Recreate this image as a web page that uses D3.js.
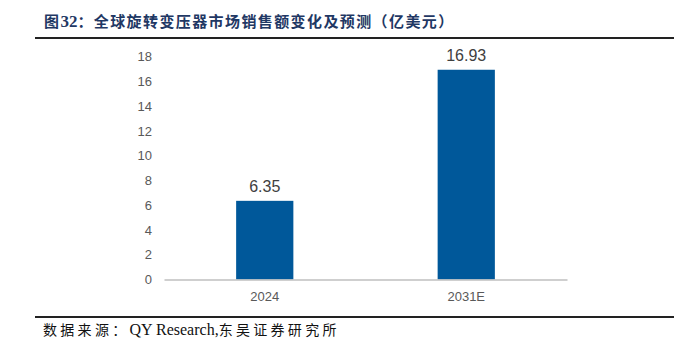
<!DOCTYPE html>
<html><head><meta charset="utf-8">
<script src="https://cdn.jsdelivr.net/npm/d3@7"></script>
<style>body{margin:0;background:#fff}</style>
</head><body>
<script>
const categories = ["2024", "2031E"];
const values = [6.35, 16.93];
const valueLabels = ["6.35", "16.93"];
const yTicks = [0, 2, 4, 6, 8, 10, 12, 14, 16, 18];
const titleParts = ["图", "32", "：全球旋转变压器市场销售额变化及预测（亿美元）"];
const sourceParts = ["数据来源：", "QY Research,", "东吴证券研究所"];

const W = 695, H = 340;
const svg = d3.select("body").append("svg").attr("width", W).attr("height", H);

const ff = "'Liberation Serif', 'Noto Sans CJK SC', serif";
const t = svg.append("text").attr("x", 44).attr("y", 27)
  .attr("font-family", ff).attr("font-weight", "bold")
  .attr("font-size", 15).attr("fill", "#1F3864");
titleParts.forEach((p, i) => t.append("tspan").attr("letter-spacing", i === 1 ? 0 : 1.4)
  .attr("font-size", i === 1 ? 17 : 15).text(p));

svg.append("line").attr("x1", 35).attr("x2", 674).attr("y1", 38).attr("y2", 38)
  .attr("stroke", "#222").attr("stroke-width", 2);
svg.append("line").attr("x1", 35).attr("x2", 674).attr("y1", 317).attr("y2", 317)
  .attr("stroke", "#222").attr("stroke-width", 2);

const s = svg.append("text").attr("x", 43).attr("y", 335)
  .attr("font-family", ff).attr("font-size", 14).attr("fill", "#111");
sourceParts.forEach((p, i) => s.append("tspan").attr("letter-spacing", i === 1 ? 0 : 3.3)
  .attr("font-size", i === 1 ? 16 : 14).text(p));

const x = d3.scaleBand().domain(categories).range([164, 567]).paddingInner(0.716).paddingOuter(0.358);
const y = d3.scaleLinear().domain([0, 18]).range([279.5, 56.5]);

const yAxis = svg.append("g").attr("transform", "translate(158,0)")
  .call(d3.axisLeft(y).tickValues(yTicks).tickSize(0).tickPadding(6));
yAxis.select(".domain").remove();
yAxis.selectAll("text").attr("font-family", "'Liberation Sans', Arial, sans-serif")
  .attr("font-size", 13).attr("fill", "#595959");

svg.selectAll("rect.bar").data(values).join("rect").attr("class", "bar")
  .attr("x", (d, i) => x(categories[i])).attr("width", x.bandwidth())
  .attr("y", d => y(d)).attr("height", d => y(0) - y(d))
  .attr("fill", "#00589A");

const xAxis = svg.append("g").attr("transform", `translate(0,${y(0)})`)
  .call(d3.axisBottom(x).tickSize(0).tickPadding(12));
xAxis.select(".domain").attr("stroke", "#BFBFBF").attr("stroke-width", 1.5);
xAxis.selectAll("text").attr("font-family", "'Liberation Sans', Arial, sans-serif")
  .attr("font-size", 13).attr("fill", "#595959");

svg.selectAll("text.vl").data(values).join("text").attr("class", "vl")
  .attr("x", (d, i) => x(categories[i]) + x.bandwidth() / 2)
  .attr("y", d => y(d) - 9).attr("text-anchor", "middle")
  .attr("font-family", "'Liberation Sans', Arial, sans-serif")
  .attr("font-size", 16).attr("fill", "#404040")
  .text((d, i) => valueLabels[i]);
</script>
</body></html>
